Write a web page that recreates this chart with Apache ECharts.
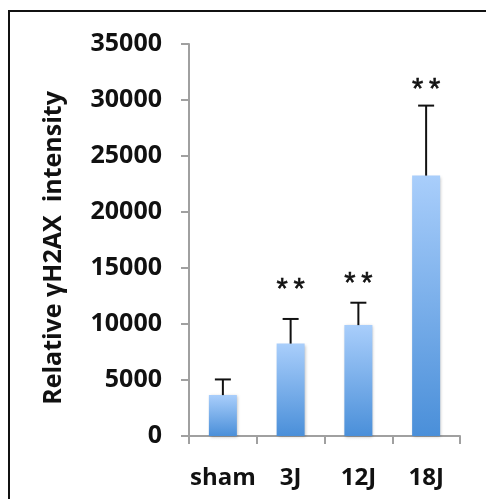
<!DOCTYPE html>
<html>
<head>
<meta charset="utf-8">
<script src="https://cdn.jsdelivr.net/npm/echarts@6/dist/echarts.min.js"></script>
<style>html,body{margin:0;padding:0;background:#fff;}#c{width:486px;height:499px;}</style>
</head>
<body>
<div id="c"></div>
<script>
var categories = ['sham', '3J', '12J', '18J'];
var means = [3650, 8250, 9900, 23250];
var errTops = [5050, 10450, 11900, 29500];
var sigMarks = ['', '*\u2009*', '*\u2009*', '*\u2009*'];
var sigLevels = [null, 13700, 14200, 31500];
var yTicks = [0, 5000, 10000, 15000, 20000, 25000, 30000, 35000];
var yTitle = 'Relative \u03b3H2AX  intensity';

var FONT = 'Open Sans';
var chart = echarts.init(document.getElementById('c'), null, {renderer: 'canvas'});
chart.setOption({
  animation: false,
  backgroundColor: '#fff',
  graphic: [{
    type: 'polyline',
    shape: {points: [[9, 510], [9, 11], [500, 11]]},
    style: {stroke: '#111', lineWidth: 2, fill: null},
    z: 100
  }, {
    type: 'text',
    x: 54, y: 248,
    rotation: Math.PI / 2,
    style: {
      text: yTitle, fill: '#111',
      font: 'bold 25px "Open Sans"',
      textAlign: 'center', textVerticalAlign: 'middle'
    },
    z: 100
  }],
  grid: {left: 189, right: 26, top: 44, bottom: 63},
  xAxis: {
    type: 'category',
    data: categories,
    axisLine: {lineStyle: {color: '#a0a0a0', width: 2}},
    axisTick: {show: true, length: 8, lineStyle: {color: '#a0a0a0', width: 2}},
    axisLabel: {interval: 0, color: '#111', fontFamily: FONT, fontWeight: 'bold', fontSize: 24, margin: 30}
  },
  yAxis: {
    type: 'value',
    min: yTicks[0],
    max: yTicks[yTicks.length - 1],
    interval: 5000,
    splitLine: {show: false},
    axisLine: {show: true, lineStyle: {color: '#a0a0a0', width: 2}},
    axisTick: {show: true, length: 8, lineStyle: {color: '#a0a0a0', width: 2}},
    axisLabel: {color: '#111', fontFamily: FONT, fontWeight: 'bold', fontSize: 25, margin: 27,
      formatter: function (v) { return String(v); }}
  },
  series: [{
    type: 'bar',
    data: means,
    barWidth: 28,
    itemStyle: {
      color: new echarts.graphic.LinearGradient(0, 0, 0, 1, [
        {offset: 0, color: '#a9cefb'},
        {offset: 1, color: '#4a8fd9'}
      ]),
      shadowBlur: 3,
      shadowColor: 'rgba(0,0,0,0.25)',
      shadowOffsetX: 1,
      shadowOffsetY: 1
    },
    z: 2
  }, {
    type: 'custom',
    data: means.map(function (m, i) { return [i, m, errTops[i]]; }),
    renderItem: function (params, api) {
      var x = api.coord([api.value(0), api.value(1)])[0];
      var yb = api.coord([api.value(0), api.value(1)])[1];
      var yt = api.coord([api.value(0), api.value(2)])[1];
      return {
        type: 'group',
        children: [
          {type: 'line', shape: {x1: x, y1: yb, x2: x, y2: yt}, style: {stroke: '#111', lineWidth: 2}},
          {type: 'line', shape: {x1: x - 8, y1: yt, x2: x + 8, y2: yt}, style: {stroke: '#111', lineWidth: 2}}
        ]
      };
    },
    z: 3
  }, {
    type: 'custom',
    data: sigLevels.map(function (v, i) { return [i, v == null ? 0 : v]; }),
    renderItem: function (params, api) {
      var idx = params.dataIndex;
      if (!sigMarks[idx]) return null;
      var p = api.coord([api.value(0), api.value(1)]);
      return {
        type: 'text',
        style: {
          x: p[0], y: p[1] + 7, text: sigMarks[idx],
          fill: '#111', stroke: '#111', lineWidth: 0.6,
          font: '29px "Liberation Sans"',
          textAlign: 'center', textVerticalAlign: 'middle'
        }
      };
    },
    z: 4
  }]
});
</script>
</body>
</html>
